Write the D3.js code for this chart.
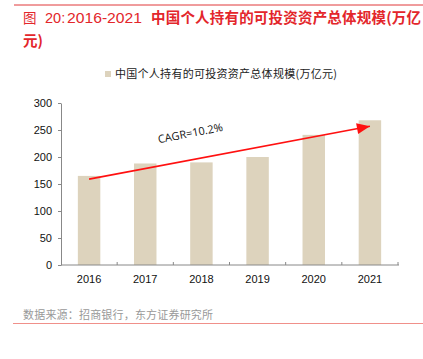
<!DOCTYPE html>
<html><head><meta charset="utf-8">
<script src="https://cdn.jsdelivr.net/npm/d3@7"></script>
<style>
body{margin:0;background:#fff;}
svg{display:block;font-family:"Liberation Sans","Noto Sans CJK SC",sans-serif;}
</style></head>
<body>
<svg id="c" width="423" height="359"></svg>
<script>
const years = ["2016","2017","2018","2019","2020","2021"];
const values = [165, 188, 190, 200, 241, 268];
const yTicks = [0, 50, 100, 150, 200, 250, 300];
const trendStart = 159, trendEnd = 257;
const seriesName = "中国个人持有的可投资资产总体规模(万亿元)";
const cagrLabel = "CAGR=10.2%";

const svg = d3.select("#c");
const cjk = '"Noto Sans CJK SC",sans-serif';
const red = "#e3262b";

// top rule
svg.append("line").attr("x1",14).attr("x2",423).attr("y1",5).attr("y2",5)
  .attr("stroke","#e0393a").attr("stroke-width",1);
// title
const tg = svg.append("g").attr("fill",red).style("font-size","14.5px");
tg.append("text").attr("x",23).attr("y",23).attr("font-family",cjk).style("font-size","13.5px").text("图");
tg.append("text").attr("x",45).attr("y",23).text("20:");
tg.append("text").attr("x",67).attr("y",23).attr("textLength",75).attr("lengthAdjust","spacingAndGlyphs").text("2016-2021");
tg.append("text").attr("x",151).attr("y",23).attr("font-family",cjk).attr("font-weight","bold")
  .attr("textLength",270).text("中国个人持有的可投资资产总体规模(万亿");
tg.append("text").attr("x",23).attr("y",46).attr("font-family",cjk).attr("font-weight","bold").text("元)");

const x = d3.scaleBand().domain(years).range([61,398]).paddingInner(0.6).paddingOuter(0.3);
const y = d3.scaleLinear().domain([0,300]).range([265,103]);

// legend
svg.append("rect").attr("x",105).attr("y",71).attr("width",6).attr("height",6).attr("fill","#ddd3bd");
svg.append("text").attr("x",115).attr("y",78).attr("font-family",cjk).style("font-size","11px")
  .attr("textLength",222).attr("fill","#222").text(seriesName);

// bars
svg.selectAll("rect.bar").data(values).join("rect").attr("class","bar")
  .attr("x",(d,i)=>x(years[i])).attr("width",x.bandwidth())
  .attr("y",d=>y(d)).attr("height",d=>y(0)-y(d)).attr("fill","#ddd3bd");

// axes
const ya = svg.append("g").attr("transform","translate(61,0)")
  .call(d3.axisLeft(y).tickValues(yTicks).tickSize(3).tickSizeOuter(0).tickPadding(6));
ya.select(".domain").attr("stroke","#888");
ya.selectAll(".tick line").attr("stroke","#888");
ya.selectAll("text").style("font-size","11px").attr("fill","#111").attr("font-family","Liberation Sans, sans-serif");

const xBound = d3.scaleLinear().domain([0,6]).range([61,398]);
svg.append("line").attr("x1",61).attr("x2",399).attr("y1",265).attr("y2",265).attr("stroke","#888");
d3.range(1,7).forEach(i=>{
  svg.append("line").attr("x1",xBound(i)).attr("x2",xBound(i)).attr("y1",265).attr("y2",262).attr("stroke","#888");
});
svg.selectAll("text.xl").data(years).join("text").attr("class","xl")
  .attr("x",d=>x(d)+x.bandwidth()/2).attr("y",283).attr("text-anchor","middle")
  .style("font-size","11px").attr("fill","#111").text(d=>d);

// trend arrow
const x0 = x("2016")+x.bandwidth()/2, x1 = x("2021")+x.bandwidth()/2;
svg.append("line").attr("x1",x0).attr("y1",y(trendStart)).attr("x2",x1).attr("y2",y(trendEnd))
  .attr("stroke","#ff1010").attr("stroke-width",1.6);
svg.append("path").attr("d",()=>{
  const ang = Math.atan2(y(trendEnd)-y(trendStart), x1-x0);
  const L=13, W=5.5;
  const bx = x1 - L*Math.cos(ang), by = y(trendEnd) - L*Math.sin(ang);
  const px = -Math.sin(ang)*W, py = Math.cos(ang)*W;
  return `M${x1},${y(trendEnd)} L${bx+px},${by+py} L${bx-px},${by-py} Z`;
}).attr("fill","#ff1010");

svg.append("text").attr("transform","translate(191,137) rotate(-11)").attr("text-anchor","middle")
  .attr("font-family","Open Sans, sans-serif").style("font-size","11px").attr("fill","#111").text(cagrLabel);

// source
svg.append("text").attr("x",23).attr("y",319).attr("font-family",cjk).style("font-size","11px")
  .attr("textLength",190).attr("fill","#999").text("数据来源：招商银行，东方证券研究所");
svg.append("line").attr("x1",13).attr("x2",423).attr("y1",323.5).attr("y2",323.5)
  .attr("stroke","#f0908a").attr("stroke-width",1);
</script>
</body></html>
